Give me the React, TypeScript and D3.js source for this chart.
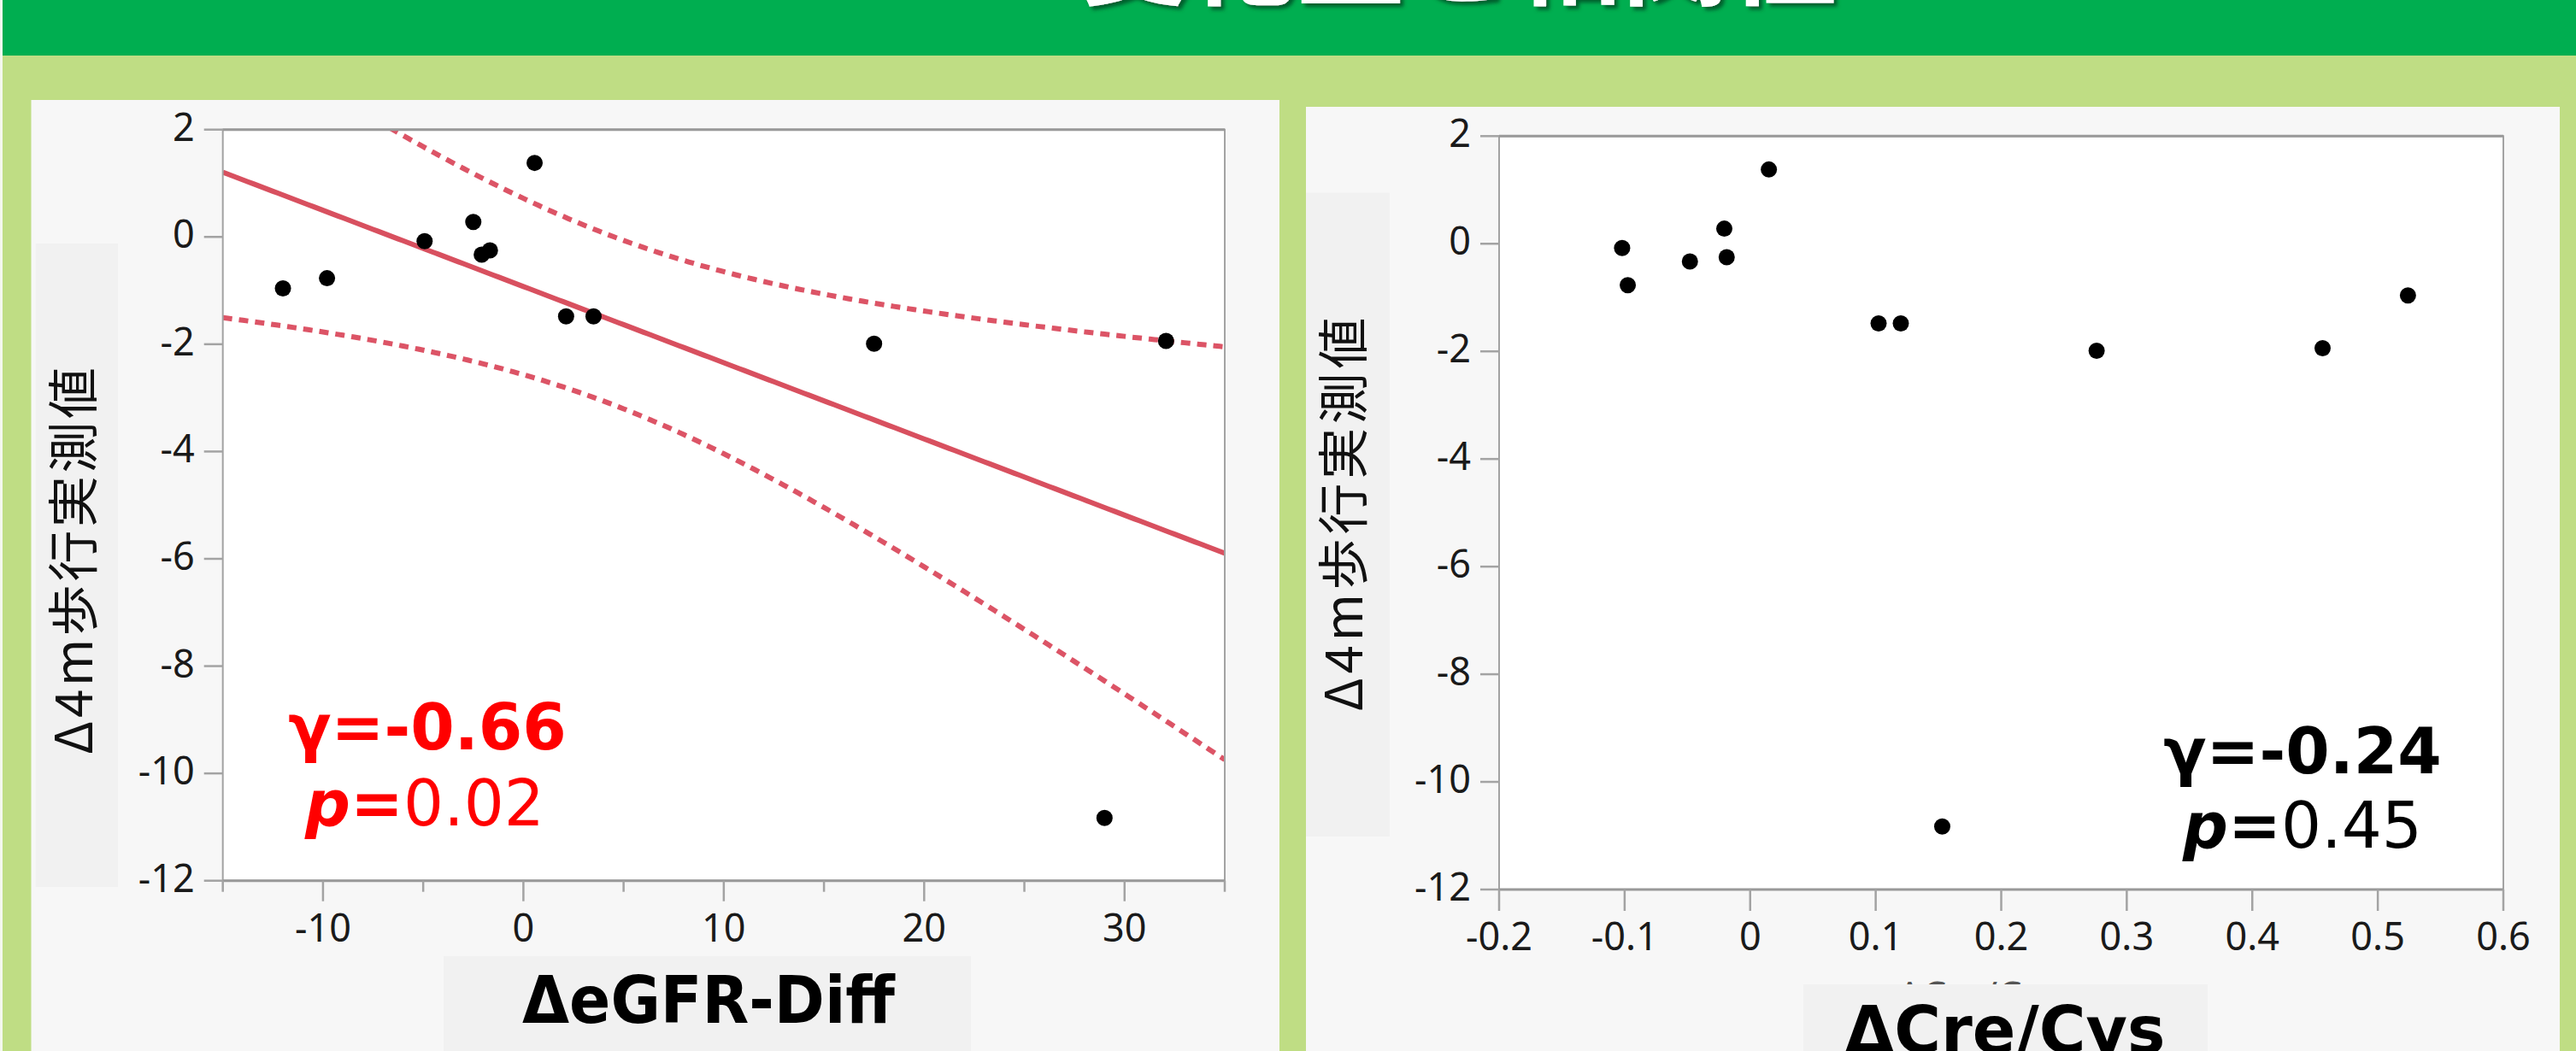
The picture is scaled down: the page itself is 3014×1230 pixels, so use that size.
import React, { useEffect } from 'react';
import * as d3 from 'd3';

const W = 3014;
const H = 1230;

// Δ4m walking time change per subject; the same subjects appear in both panels
const walkChange = [-0.96, -0.77, -0.08, 0.28, -0.33, -0.25, 1.38, -1.48, -1.48, -1.99, -1.94, -10.83];
const egfrDiffChange = [-12.0, -9.8, -4.93, -2.5, -2.08, -1.67, 0.56, 2.13, 3.5, 17.5, 32.07, 29.0];
const creCysChange = [0.524, -0.0975, -0.102, -0.0206, -0.048, -0.0187, 0.0149, 0.1023, 0.12, 0.276, 0.456, 0.153];

const yTicks = [2, 0, -2, -4, -6, -8, -10, -12];
const egfrMajorTicks = [-10, 0, 10, 20, 30];
const egfrMinorTicks = [-15, -5, 5, 15, 25, 35];
const creCysTicks = [-0.2, -0.1, 0, 0.1, 0.2, 0.3, 0.4, 0.5, 0.6];
const creCysTickLabels = ['-0.2', '-0.1', '0', '0.1', '0.2', '0.3', '0.4', '0.5', '0.6'];

const TITLE = '変化量と相関性';
const Y_LABEL = 'Δ4m歩行実測値';

// two-sided 95% t quantile, 10 degrees of freedom (n = 12)
const T_975_DF10 = 2.228;

const TICK_FONT = "'Noto Sans', 'Open Sans', sans-serif";
const BOLD_FONT = "'DejaVu Sans', Verdana, sans-serif";
const CJK_FONT = "'Noto Sans CJK JP', 'Noto Sans', sans-serif";

function fit(xs: number[], ys: number[]) {
  const n = xs.length;
  const mx = d3.mean(xs) as number;
  const my = d3.mean(ys) as number;
  let sxx = 0;
  let sxy = 0;
  xs.forEach((x, i) => {
    sxx += (x - mx) ** 2;
    sxy += (x - mx) * (ys[i] - my);
  });
  const b = sxy / sxx;
  const a = my - b * mx;
  const sse = d3.sum(xs.map((x, i) => (ys[i] - (a + b * x)) ** 2));
  const s = Math.sqrt(sse / (n - 2));
  const half = (x: number) => T_975_DF10 * s * Math.sqrt(1 / n + (x - mx) ** 2 / sxx);
  return { a, b, half };
}

const FRAME = '#a3a3a3';

function YAxis({ y, left }: { y: d3.ScaleLinear<number, number>; left: number }) {
  return (
    <g>
      {yTicks.map((t) => (
        <g key={t}>
          <line x1={left - 22} x2={left} y1={y(t)} y2={y(t)} stroke={FRAME} strokeWidth={2.5} />
          <text x={left - 33} y={y(t) + 13} textAnchor="end" fontFamily={TICK_FONT} fontSize={45} fill="#1a1a1a">
            {t}
          </text>
        </g>
      ))}
    </g>
  );
}

function Dots({ xs, ys, x, y }: any) {
  return (
    <g>
      {xs.map((v: number, i: number) => (
        <circle key={i} cx={x(v)} cy={y(ys[i])} r={9.5} fill="#000" />
      ))}
    </g>
  );
}

function LeftPanel() {
  const x = d3.scaleLinear().domain([-15, 35]).range([260.7, 1433]);
  const y = d3.scaleLinear().domain([-12, 2]).range([1030.7, 151.7]);
  const [x0, x1] = x.range();
  const [yb, yt] = y.range();
  const { a, b, half } = fit(egfrDiffChange, walkChange);
  const samples = d3.range(0, 201).map((i) => -15 + (50 * i) / 200);
  const line = d3
    .line<number>()
    .x((d) => x(d))
    .curve(d3.curveLinear);
  const fitPath = line.y((d) => y(a + b * d))(samples) as string;
  const upperPath = line.y((d) => y(a + b * d + half(d)))(samples) as string;
  const lowerPath = line.y((d) => y(a + b * d - half(d)))(samples) as string;

  return (
    <g>
      <rect x={36.5} y={117} width={1460.5} height={H - 117} fill="#f7f7f7" />
      <rect x={41.7} y={285} width={96.3} height={753} fill="#f1f1f1" />
      <rect x={x0} y={yt} width={x1 - x0} height={yb - yt} fill="#fff" />
      <clipPath id="clip-left">
        <rect x={x0} y={yt} width={x1 - x0} height={yb - yt} />
      </clipPath>
      <g clipPath="url(#clip-left)" fill="none">
        <path d={upperPath} stroke="#dc5466" strokeWidth={6} strokeDasharray="11 8" />
        <path d={lowerPath} stroke="#dc5466" strokeWidth={6} strokeDasharray="11 8" />
        <path d={fitPath} stroke="#d8505f" strokeWidth={6} />
      </g>
      <rect x={x0} y={yt} width={x1 - x0} height={yb - yt} fill="none" stroke={FRAME} strokeWidth={2} />
      <line x1={x0} x2={x1} y1={yt} y2={yt} stroke="#999" strokeWidth={3} />
      <line x1={x0} x2={x1} y1={yb} y2={yb} stroke="#999" strokeWidth={3} />
      <YAxis y={y} left={x0} />
      {egfrMinorTicks.map((t) => (
        <line key={t} x1={x(t)} x2={x(t)} y1={yb} y2={yb + 13} stroke={FRAME} strokeWidth={2.5} />
      ))}
      {egfrMajorTicks.map((t) => (
        <g key={t}>
          <line x1={x(t)} x2={x(t)} y1={yb} y2={yb + 24} stroke={FRAME} strokeWidth={2.5} />
          <text x={x(t)} y={1101.7} textAnchor="middle" fontFamily={TICK_FONT} fontSize={45} fill="#1a1a1a">
            {t}
          </text>
        </g>
      ))}
      <Dots xs={egfrDiffChange} ys={walkChange} x={x} y={y} />
      <text
        transform="translate(108,656.5) rotate(-90)"
        textAnchor="middle"
        fontFamily={CJK_FONT}
        fontSize={60}
        fill="#111"
        textLength={453}
        lengthAdjust="spacing"
      >
        {Y_LABEL}
      </text>
      <rect x={519} y={1119} width={617} height={H - 1119} fill="#f1f1f1" />
      <text x={829} y={1197} textAnchor="middle" fontFamily={BOLD_FONT} fontWeight="bold" fontSize={76} fill="#000" textLength={436} lengthAdjust="spacingAndGlyphs">
        ΔeGFR-Diff
      </text>
      <text x={500} y={877} textAnchor="middle" fontFamily={BOLD_FONT} fontWeight="bold" fontSize={74} fill="#ff0000">
        γ=-0.66
      </text>
      <text x={497} y={966} textAnchor="middle" fontFamily={BOLD_FONT} fontSize={74} fill="#ff0000">
        <tspan fontWeight="bold" fontStyle="italic">p</tspan>
        <tspan fontWeight="bold">=</tspan>
        <tspan>0.02</tspan>
      </text>
    </g>
  );
}

function RightPanel() {
  const x = d3.scaleLinear().domain([-0.2, 0.6]).range([1754, 2929]);
  const y = d3.scaleLinear().domain([-12, 2]).range([1041, 159.3]);
  const [x0, x1] = x.range();
  const [yb, yt] = y.range();
  return (
    <g>
      <rect x={1528} y={125} width={1467} height={H - 125} fill="#f7f7f7" />
      <rect x={1528} y={225.5} width={98} height={753.5} fill="#f1f1f1" />
      <rect x={x0} y={yt} width={x1 - x0} height={yb - yt} fill="#fff" />
      <rect x={x0} y={yt} width={x1 - x0} height={yb - yt} fill="none" stroke={FRAME} strokeWidth={2} />
      <line x1={x0} x2={x1} y1={yt} y2={yt} stroke="#999" strokeWidth={3} />
      <line x1={x0} x2={x1} y1={yb} y2={yb} stroke="#999" strokeWidth={3} />
      <YAxis y={y} left={x0} />
      {creCysTicks.map((t, i) => (
        <g key={t}>
          <line x1={x(t)} x2={x(t)} y1={yb} y2={yb + 25} stroke={FRAME} strokeWidth={2.5} />
          <text x={x(t)} y={1112} textAnchor="middle" fontFamily={TICK_FONT} fontSize={45} fill="#1a1a1a">
            {creCysTickLabels[i]}
          </text>
        </g>
      ))}
      <Dots xs={creCysChange} ys={walkChange} x={x} y={y} />
      <text
        transform="translate(1594,602) rotate(-90)"
        textAnchor="middle"
        fontFamily={CJK_FONT}
        fontSize={60}
        fill="#111"
        textLength={461}
        lengthAdjust="spacing"
      >
        {Y_LABEL}
      </text>
      {/* original small axis caption, mostly covered by the caption box */}
      <text x={2315} y={1182} textAnchor="middle" fontFamily={TICK_FONT} fontSize={45} fill="#555">
        ΔCre/Cys
      </text>
      <rect x={2110} y={1152} width={473} height={H - 1152} fill="#f1f1f1" />
      <text x={2346} y={1232} textAnchor="middle" fontFamily={BOLD_FONT} fontWeight="bold" fontSize={76} fill="#000" textLength={375} lengthAdjust="spacingAndGlyphs">
        ΔCre/Cys
      </text>
      <text x={2694} y={905} textAnchor="middle" fontFamily={BOLD_FONT} fontWeight="bold" fontSize={74} fill="#000">
        γ=-0.24
      </text>
      <text x={2694} y={992} textAnchor="middle" fontFamily={BOLD_FONT} fontSize={74} fill="#000">
        <tspan fontWeight="bold" fontStyle="italic">p</tspan>
        <tspan fontWeight="bold">=</tspan>
        <tspan>0.45</tspan>
      </text>
    </g>
  );
}

export default function App() {
  useEffect(() => {
    document.body.style.margin = '0';
    document.body.style.overflow = 'hidden';
  }, []);
  return (
    <div style={{ position: 'absolute', left: 0, top: 0, width: W, height: H, overflow: 'hidden' }}>
      <svg width={W} height={H} viewBox={`0 0 ${W} ${H}`} style={{ display: 'block' }}>
        <defs>
          <filter id="title-shadow" x="-10%" y="-50%" width="120%" height="200%">
            <feDropShadow dx={4} dy={4} stdDeviation={2} floodColor="#00552a" floodOpacity={0.9} />
          </filter>
        </defs>
        <rect x={0} y={0} width={W} height={H} fill="#bfdd84" />
        <rect x={0} y={0} width={W} height={65} fill="#00ae50" />
        <rect x={0} y={0} width={3} height={H} fill="#f4f8ee" />
        <text
          x={1707}
          y={-4}
          textAnchor="middle"
          fontFamily={CJK_FONT}
          fontWeight="bold"
          fontSize={126}
          fill="#fff"
          textLength={886}
          lengthAdjust="spacing"
          filter="url(#title-shadow)"
        >
          {TITLE}
        </text>
        <LeftPanel />
        <RightPanel />
      </svg>
    </div>
  );
}
